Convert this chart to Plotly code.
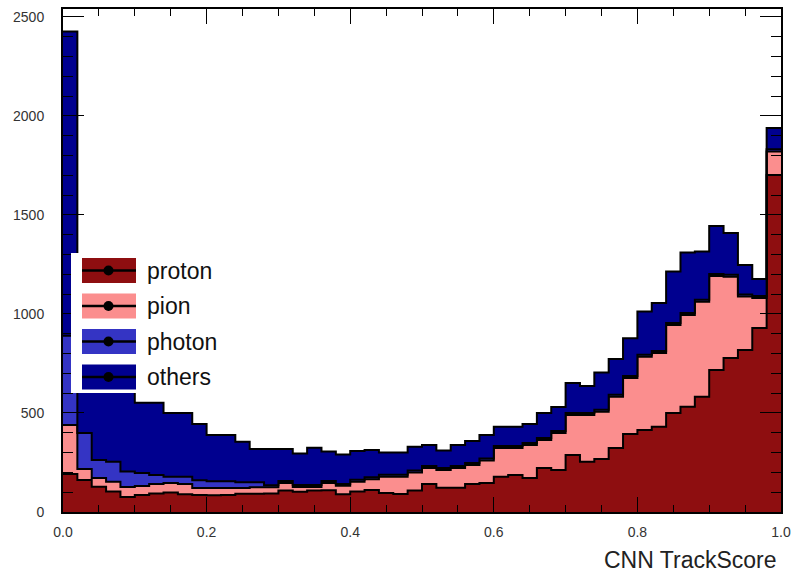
import numpy as np
import plotly.graph_objects as go

# ---- data: 50 bins of CNN TrackScore from 0 to 1 ----
score_lo, score_hi, n_bins = 0.0, 1.0, 50

proton = [192, 162, 128, 103, 76, 86, 94, 98, 90, 86,
          84, 86, 92, 92, 94, 108, 102, 108, 110, 90,
          103, 111, 96, 91, 108, 141, 123, 123, 141, 146,
          178, 187, 172, 222, 212, 288, 254, 268, 323, 394,
          414, 431, 500, 532, 582, 717, 778, 818, 929, 1702]
pion = [247, 55, 44, 50, 50, 45, 47, 48, 51, 35,
        37, 35, 29, 33, 31, 38, 24, 18, 36, 42,
        50, 55, 82, 87, 91, 81, 89, 99, 96, 114,
        145, 136, 166, 142, 187, 202, 236, 238, 259, 283,
        370, 372, 444, 463, 480, 475, 410, 270, 152, 118]
photon = [451, 182, 91, 101, 78, 66, 46, 32, 37, 39,
          34, 34, 29, 25, 10, 10, 10, 10, 10, 10,
          10, 10, 10, 10, 10, 10, 10, 10, 10, 10,
          10, 10, 10, 10, 10, 10, 10, 10, 10, 10,
          10, 10, 10, 10, 10, 10, 10, 10, 10, 12]
others = [1536, 600, 457, 406, 416, 355, 365, 322, 322, 285,
          234, 234, 205, 168, 183, 162, 160, 189, 149, 148,
          145, 137, 112, 112, 121, 106, 88, 106, 112, 119,
          98, 98, 96, 126, 121, 151, 136, 188, 181, 190,
          218, 242, 260, 305, 243, 242, 211, 149, 86, 107]

species = ["proton", "pion", "photon", "others"]
series = [proton, pion, photon, others]
colors = ["#8e0e10", "#fb8e8e", "#3434c4", "#00008f"]

y_ticks = [0, 500, 1000, 1500, 2000, 2500]
x_ticks = [0.0, 0.2, 0.4, 0.6, 0.8, 1.0]

# ---- geometry of the ROOT-like frame (pixels) ----
W, H = 792, 573
L, R, T, B = 63, 781, 9, 512
Y_MAX = 2540


def px(x):
    return (x - L) / (R - L)


def py(y):
    return (B - y) / (B - T)


edges = np.linspace(score_lo, score_hi, n_bins + 1)
stack = np.cumsum(np.array(series, dtype=float), axis=0)

fig = go.Figure()
for i, (name, col) in enumerate(zip(species, colors)):
    yv = list(stack[i]) + [stack[i][-1]]
    fig.add_trace(go.Scatter(
        x=edges, y=yv, mode="lines", name=name,
        line=dict(shape="hv", color="black", width=2),
        fill="tozeroy" if i == 0 else "tonexty",
        fillcolor=col, showlegend=False, hoverinfo="skip"))

font_family = "Liberation Sans, Arial, Helvetica, sans-serif"

fig.update_xaxes(
    range=[score_lo, score_hi], showgrid=False, zeroline=False, automargin=False,
    showline=True, linecolor="black", linewidth=2, mirror="allticks",
    ticks="inside", ticklen=15, tickwidth=1, tickcolor="black",
    tickvals=x_ticks, ticktext=[f"{v:.1f}" for v in x_ticks],
    ticklabelstandoff=6,
    tickfont=dict(family=font_family, size=14, color="#333333"),
    minor=dict(ticks="inside", dtick=0.05, ticklen=7, tickwidth=1,
               tickcolor="black", showgrid=False))
fig.update_yaxes(
    range=[0, Y_MAX], showgrid=False, zeroline=False, automargin=False,
    showline=True, linecolor="black", linewidth=2, mirror="allticks",
    ticks="inside", ticklen=21, tickwidth=1, tickcolor="black",
    tickvals=y_ticks, ticktext=[str(v) for v in y_ticks],
    ticklabelstandoff=14,
    tickfont=dict(family=font_family, size=14, color="#333333"),
    minor=dict(ticks="inside", dtick=100, ticklen=10, tickwidth=1,
               tickcolor="black", showgrid=False))

# ---- ROOT-style legend (big swatches with line + marker) ----
shapes = [dict(type="rect", xref="paper", yref="paper",
               x0=px(71), x1=px(236), y0=py(393), y1=py(253),
               fillcolor="white", line=dict(width=0), layer="above")]
annotations = []
for k, (name, col) in enumerate(zip(species, colors)):
    top = 258 + 35.5 * k
    cy = top + 12.5
    shapes.append(dict(type="rect", xref="paper", yref="paper",
                       x0=px(82), x1=px(136), y0=py(top + 25), y1=py(top),
                       fillcolor=col, line=dict(width=0), layer="above"))
    shapes.append(dict(type="line", xref="paper", yref="paper",
                       x0=px(82), x1=px(136), y0=py(cy), y1=py(cy),
                       line=dict(color="black", width=2.5), layer="above"))
    shapes.append(dict(type="circle", xref="paper", yref="paper",
                       x0=px(103.5), x1=px(113.5), y0=py(cy + 5), y1=py(cy - 5),
                       fillcolor="black", line=dict(width=0), layer="above"))
    annotations.append(dict(xref="paper", yref="paper", x=px(145), y=py(cy),
                            xanchor="left", yanchor="middle", showarrow=False,
                            text=name,
                            font=dict(family=font_family, size=23, color="#111111")))

annotations.append(dict(xref="paper", yref="paper", x=px(779), y=py(560),
                        xanchor="right", yanchor="middle", showarrow=False,
                        text="CNN TrackScore",
                        font=dict(family=font_family, size=23, color="#222222")))

fig.update_layout(
    width=W, height=H, autosize=False,
    margin=dict(l=L, r=W - R, t=T, b=H - B),
    paper_bgcolor="white", plot_bgcolor="white",
    showlegend=False, shapes=shapes, annotations=annotations)

fig.write_html("out.html")
